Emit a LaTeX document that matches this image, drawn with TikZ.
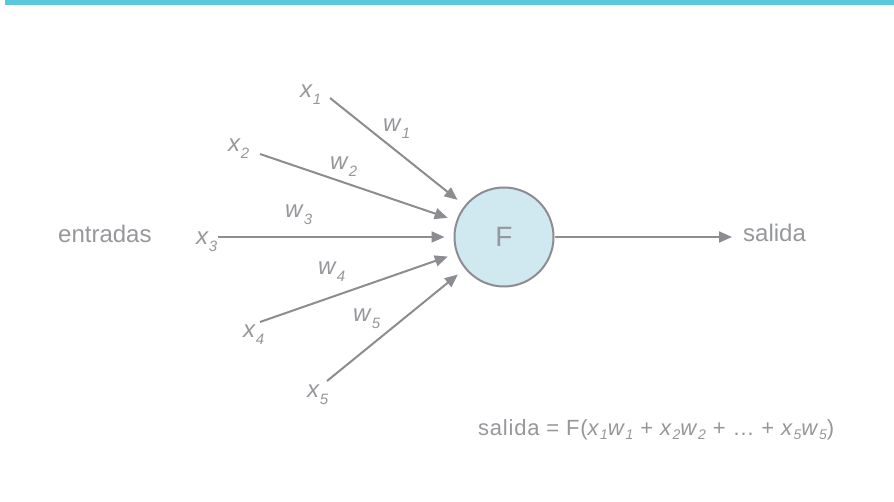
\documentclass[tikz,border=0pt]{standalone}
\usepackage{fontspec}
\setmainfont{Liberation Sans}
\usetikzlibrary{arrows.meta, positioning}
\definecolor{inkgray}{RGB}{150,151,155}
\definecolor{linegray}{RGB}{140,140,145}
\definecolor{cellblue}{RGB}{208,233,240}
\definecolor{barcyan}{RGB}{88,200,218}
\newcommand{\lowidx}[1]{\raisebox{-7pt}{\fontsize{15}{15}\selectfont\itshape #1}}
\newcommand{\invar}[1]{\textit{x}\lowidx{#1}}
\newcommand{\wvar}[1]{\textit{w}\lowidx{#1}}
\newcommand{\fx}[2]{\textit{#1}\raisebox{-4pt}{\fontsize{14}{14}\selectfont\itshape #2}}
\tikzset{
  feed/.style={draw=linegray, line width=2pt, -{Triangle[length=13pt,width=11pt]}},
  lbl/.style={anchor=base west, inner sep=0pt}
}

\begin{document}
\begin{tikzpicture}[x=1pt, y=1pt, every node/.style={text=inkgray, font=\fontsize{24}{28}\selectfont}]
  \useasboundingbox (0,0) rectangle (894,501);
  \fill[barcyan] (5,496) rectangle (894,501);

  % Neuron
  \node[draw=linegray, line width=2pt, fill=cellblue, circle, minimum size=99pt, inner sep=0pt, font=\fontsize{28}{32}\selectfont] (F) at (504,264) {F};

  % Inputs
  \node[lbl] (entradas) at (58,258) {entradas};
  \node[lbl] (x1) at (300,403) {\invar{1}};
  \node[lbl] (x2) at (228,349) {\invar{2}};
  \node[lbl] (x3) at (196,256) {\invar{3}};
  \node[lbl] (x4) at (243,164) {\invar{4}};
  \node[lbl] (x5) at (307,104) {\invar{5}};

  \coordinate (s1) at (330,403);
  \coordinate (s2) at (260,347);
  \coordinate (s3) at (218,264);
  \coordinate (s4) at (260,179);
  \coordinate (s5) at (327,120);

  % Weights
  \node[lbl] (w1) at (383,369) {\wvar{1}};
  \node[lbl] (w2) at (330,331) {\wvar{2}};
  \node[lbl] (w3) at (285,283) {\wvar{3}};
  \node[lbl] (w4) at (318,226) {\wvar{4}};
  \node[lbl] (w5) at (353,179) {\wvar{5}};

  \foreach \i in {1,...,5}
    \draw[feed, shorten >=9pt] (s\i) -- (F);

  % Output
  \node[lbl] (salida) at (743,259) {salida};
  \draw[feed] (F.east) -- ([xshift=-11pt]salida.west |- F.center);

  % Formula
  \node[lbl, font=\fontsize{22}{26}\selectfont\addfontfeature{LetterSpace=3.5}] (formula) at (478,66) {salida = F(\fx{x}{1}\fx{w}{1} + \fx{x}{2}\fx{w}{2} + \dots\ + \fx{x}{5}\fx{w}{5})};
\end{tikzpicture}
\end{document}
